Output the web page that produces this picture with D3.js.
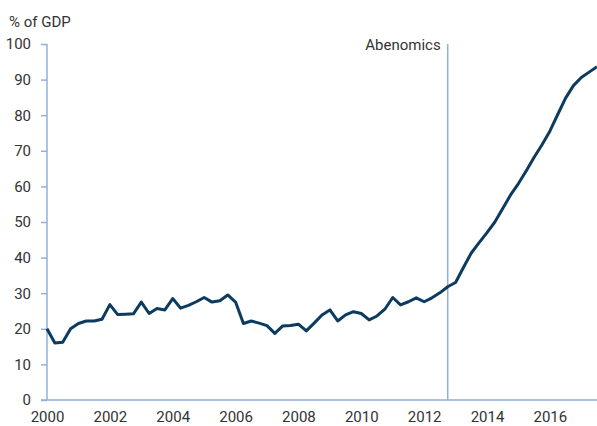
<!DOCTYPE html>
<html><head><meta charset="utf-8">
<script src="https://cdn.jsdelivr.net/npm/d3@7"></script>
<style>
html,body{margin:0;padding:0;background:#fff;}
svg{display:block;font-family:"Roboto",sans-serif;}
</style></head>
<body><svg id="c" width="597" height="426"></svg>
<script>
// Quarterly observations, starting 2000 Q1
const startYear = 2000;
const values = [
 20.0,16.0,16.2,20.0, 21.5,22.2,22.2,22.7,
 26.8,24.0,24.1,24.2, 27.5,24.3,25.7,25.3,
 28.5,25.8,26.6,27.6, 28.8,27.5,27.9,29.5,
 27.5,21.5,22.2,21.6, 20.9,18.7,20.8,20.9,
 21.3,19.4,21.6,23.9, 25.3,22.2,23.9,24.8,
 24.3,22.5,23.6,25.5, 28.8,26.7,27.6,28.7,
 27.6,28.7,30.1,31.8, 33.0,37.2,41.3,44.2,
 47.0,50.0,53.8,57.6, 60.8,64.4,68.2,71.7,
 75.5,80.2,84.8,88.3, 90.6,92.1,93.6
];
const yTicks = [0,10,20,30,40,50,60,70,80,90,100];
const xTicks = [2000,2002,2004,2006,2008,2010,2012,2014,2016];
const eventYear = 2012.75;
const eventLabel = "Abenomics";
const yTitle = "% of GDP";

const data = values.map((v,i)=>({t:startYear+i*0.25, v}));
const svg = d3.select("#c");
const x = d3.scaleLinear().domain([2000,2017.5]).range([47,597]);
const y = d3.scaleLinear().domain([0,100]).range([400,44]);
const axisCol = "#8fb0dc", textCol = "#333";
const fs = "15px";

// y axis
const ya = svg.append("g").attr("transform","translate(47,0)")
  .call(d3.axisLeft(y).tickValues(yTicks).tickSize(6).tickPadding(10));
ya.select(".domain").attr("stroke",axisCol).attr("stroke-width",1.5).attr("d","M0,44V400");
ya.selectAll(".tick line").attr("stroke",axisCol).attr("stroke-width",1.5);
ya.selectAll(".tick text").attr("fill",textCol).style("font-size",fs).style("font-family","Roboto, sans-serif");

// x axis
const xa = svg.append("g").attr("transform","translate(0,400)")
  .call(d3.axisBottom(x).tickValues(xTicks).tickFormat(d3.format("d")).tickSize(0).tickPadding(11));
xa.select(".domain").attr("stroke",axisCol).attr("stroke-width",1.5).attr("d","M41,0H597");
xa.selectAll(".tick text").attr("fill",textCol).style("font-size",fs).style("font-family","Roboto, sans-serif");

// event line
svg.append("line").attr("x1",x(eventYear)).attr("x2",x(eventYear))
  .attr("y1",y(100)).attr("y2",y(0)).attr("stroke",axisCol).attr("stroke-width",1.5);
svg.append("text").attr("x",x(eventYear)-7).attr("y",y(100)+6)
  .attr("text-anchor","end").attr("fill",textCol).style("font-size",fs).text(eventLabel);

// title
svg.append("text").attr("x",9).attr("y",27).attr("fill",textCol).style("font-size",fs).text(yTitle);

// line
svg.append("path").datum(data)
  .attr("fill","none").attr("stroke","#0d3a5f").attr("stroke-width",3)
  .attr("stroke-linejoin","round")
  .attr("d",d3.line().x(d=>x(d.t)).y(d=>y(d.v)));
</script></body></html>
